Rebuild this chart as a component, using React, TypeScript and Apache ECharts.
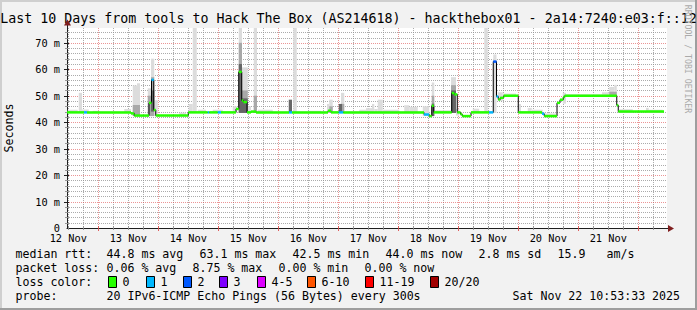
import React, { useEffect, useRef } from 'react';
import * as echarts from 'echarts';

const FONT = "'DejaVu Sans Mono', monospace";

const TITLE = 'Last 10 Days from tools to Hack The Box (AS214618) - hackthebox01 - 2a14:7240:e03:f::12';
const Y_NAME = 'Seconds';
const WATERMARK = 'RRDTOOL / TOBI OETIKER';

// x is measured in hours since 12 Nov 00:00
const X_MIN = 11.5;
const X_MAX = 251.5;
const Y_MIN = 0;
const Y_MAX = 75.6;

const dayLabels = ['12 Nov', '13 Nov', '14 Nov', '15 Nov', '16 Nov', '17 Nov', '18 Nov', '19 Nov', '20 Nov', '21 Nov'];
const dayLabelHours = [12, 36, 60, 84, 108, 132, 156, 180, 204, 228];
const midnightHours = [24, 48, 72, 96, 120, 144, 168, 192, 216, 240];
const yLabelValues = [0, 10, 20, 30, 40, 50, 60, 70];

const lossColors = ['#26ff00', '#00b8ff', '#0059ff', '#7e00ff', '#dd00ff', '#ff5500', '#ff0000', '#a10000'];
const lossLabels = ['0', '1', '2', '3', '4-5', '6-10', '11-19', '20/20'];

// median rtt segments: [startHour, endHour, ms, lossIndex]
const medianSegments: [number, number, number, number][] = [
  [11.5, 18.3, 43.7, 0], [18.3, 19.5, 43.7, 1], [19.5, 37.1, 43.7, 0], [37.1, 38.4, 43.3, 0],
  [38.4, 44.3, 42.5, 0], [44.3, 45.3, 47.3, 0], [45.3, 46.2, 56.0, 1], [46.2, 47.0, 44.6, 0],
  [47.0, 60.0, 42.5, 0], [60.0, 67.8, 43.7, 0], [67.8, 68.4, 43.7, 1], [68.4, 71.8, 43.7, 0],
  [71.8, 73.1, 43.7, 1], [73.1, 79.1, 43.7, 0], [79.1, 80.2, 45.0, 0], [80.2, 81.4, 59.0, 0],
  [81.4, 82.0, 48.2, 0], [82.0, 83.5, 47.6, 0], [83.5, 85.1, 43.7, 0], [85.1, 87.1, 44.0, 0],
  [87.1, 100.3, 43.7, 0], [100.3, 101.5, 43.7, 1], [101.5, 115.9, 43.7, 0], [115.9, 117.1, 44.3, 0],
  [117.1, 120.2, 43.7, 0], [120.2, 122.0, 43.7, 1], [122.0, 154.3, 43.7, 0], [154.3, 156.4, 42.9, 1],
  [156.4, 157.4, 42.3, 0], [157.4, 158.2, 46.2, 0], [158.2, 165.4, 43.7, 0], [165.4, 166.4, 51.0, 0],
  [166.4, 167.6, 50.5, 0], [167.6, 168.9, 43.7, 0], [168.9, 169.6, 43.0, 0], [169.6, 173.1, 42.3, 0],
  [173.1, 180.3, 43.7, 0], [180.3, 182.0, 43.7, 1], [182.0, 183.3, 62.9, 2], [183.3, 184.0, 49.7, 1],
  [184.0, 184.8, 48.6, 0], [184.8, 186.2, 49.2, 0], [186.2, 192.0, 50.0, 0], [192.0, 201.5, 43.7, 0],
  [201.5, 202.4, 43.2, 1], [202.4, 207.5, 42.3, 0], [207.5, 208.7, 47.3, 0], [208.7, 210.0, 48.5, 0],
  [210.0, 210.6, 49.5, 0], [210.6, 231.4, 50.0, 0], [231.4, 232.0, 46.4, 0], [232.0, 250.3, 44.0, 0],
];

// smoke bands: [startHour, endHour, lowMs, highMs]
const smokeLight: [number, number, number, number][] = [
  [11.8, 15.8, 43.5, 44.7], [16.2, 17.5, 43.5, 51.1], [17.5, 20.2, 43.5, 44.8], [21.8, 24.4, 43.5, 44.3],
  [34.4, 37.1, 43.5, 45.0], [37.8, 39.5, 42.3, 53.9], [39.5, 40.7, 42.3, 54.7], [43.8, 45.1, 42.3, 52.8],
  [45.1, 46.4, 42.3, 64.0], [46.4, 47.8, 42.3, 48.3], [56.4, 59.1, 42.3, 43.6], [60.2, 61.8, 43.5, 46.9],
  [61.8, 63.4, 43.5, 75.6], [63.8, 67.1, 43.5, 44.7], [69.8, 73.8, 43.5, 44.7], [77.8, 79.4, 43.5, 46.0],
  [80.2, 81.5, 43.5, 75.6], [81.5, 83.8, 43.5, 60.7], [83.8, 85.1, 43.5, 46.0], [86.2, 87.5, 43.5, 75.6],
  [87.8, 93.8, 43.5, 44.7], [102.0, 103.4, 43.5, 75.6], [108.4, 113.1, 43.5, 44.3], [115.5, 116.4, 43.5, 46.9],
  [116.4, 117.8, 43.5, 48.5], [121.1, 122.4, 43.5, 51.1], [128.4, 131.1, 43.5, 44.7], [131.1, 133.5, 43.5, 45.3],
  [133.5, 134.4, 43.5, 46.9], [134.4, 135.8, 43.5, 45.0], [135.8, 137.8, 43.5, 48.5], [137.8, 144.4, 43.5, 44.7],
  [146.4, 148.4, 43.5, 46.4], [148.4, 151.8, 43.5, 45.8], [153.8, 156.4, 42.3, 46.0], [157.4, 158.4, 42.3, 55.0],
  [158.4, 165.1, 43.5, 44.5], [165.1, 167.1, 43.5, 57.0], [167.1, 168.4, 42.5, 45.0], [173.8, 176.4, 43.5, 45.1],
  [178.4, 179.8, 43.5, 75.6], [182.0, 183.3, 43.5, 65.6], [183.8, 185.8, 48.0, 51.3], [185.8, 191.1, 49.5, 50.8],
  [192.0, 193.1, 43.5, 46.9], [195.8, 197.4, 43.5, 45.4], [197.4, 201.8, 43.5, 44.7], [202.4, 207.1, 42.0, 43.3],
  [209.8, 211.1, 47.0, 51.1], [211.1, 225.5, 49.5, 50.6], [225.5, 228.4, 49.5, 51.3], [228.4, 230.4, 49.5, 53.3],
  [230.4, 231.4, 49.5, 54.1], [232.4, 237.8, 43.5, 44.9], [243.1, 244.2, 43.5, 45.4], [244.2, 249.8, 43.5, 44.7],
];
const smokeMid: [number, number, number, number][] = [
  [37.8, 40.7, 42.3, 46.5], [43.8, 45.1, 42.3, 50.0], [45.1, 46.4, 42.3, 57.0], [80.2, 81.5, 43.5, 70.0],
  [81.5, 83.8, 43.5, 52.0], [86.2, 87.5, 43.5, 50.0], [116.4, 117.8, 43.5, 46.0], [121.1, 122.4, 43.5, 46.9],
  [157.4, 158.4, 42.3, 50.0], [165.1, 167.1, 43.5, 54.0], [228.4, 231.4, 49.5, 51.5],
];
const smokeDark: [number, number, number, number][] = [
  [45.1, 46.4, 44.0, 52.0], [80.2, 81.5, 43.5, 62.0], [81.5, 83.8, 43.5, 49.0], [100.2, 101.5, 43.5, 48.5],
  [120.2, 121.5, 43.5, 46.9], [157.4, 158.4, 42.3, 47.0], [165.1, 167.1, 43.5, 52.0],
];

const statLabels = ['median rtt:', 'packet loss:', 'loss color:', 'probe:'];
const rttStats = ['44.8 ms avg', '63.1 ms max', '42.5 ms min', '44.0 ms now', '2.8 ms sd', '15.9', 'am/s'];
const lossStats = ['0.06 % avg', '8.75 % max', '0.00 % min', '0.00 % now'];
const probeText = '20 IPv6-ICMP Echo Pings (56 Bytes) every 300s';
const stampText = 'Sat Nov 22 10:53:33 2025';

// layout (pixels)
const ROW_Y = [254, 268, 282, 296];
const RTT_X = [107, 200, 293, 386, 479, 558, 607];
const LOSS_X = [107, 193, 279, 365];
const BOX_X = [108, 146, 183, 219, 257, 307, 365, 430];

function bandSeries(data: number[][], color: string, z: number) {
  return {
    type: 'custom',
    z,
    silent: true,
    clip: true,
    data,
    encode: { x: [0, 1], y: [2, 3] },
    renderItem: (_p: any, api: any) => {
      const a = api.coord([api.value(0), api.value(3)]);
      const b = api.coord([api.value(1), api.value(2)]);
      return {
        type: 'rect',
        shape: { x: a[0], y: a[1], width: b[0] - a[0], height: b[1] - a[1] },
        style: { fill: color },
      };
    },
  };
}

export default function App() {
  const ref = useRef<HTMLDivElement>(null);
  useEffect(() => {
    const chart = echarts.init(ref.current!, null, { renderer: 'svg', width: 697, height: 310 });

    // grid line definitions: [value, orientation(0 vertical, 1 horizontal), major]
    const gridLines: number[][] = [];
    for (let h = 12; h < X_MAX; h += 6) gridLines.push([h, 0, midnightHours.includes(h) ? 1 : 0]);
    for (let v = 2; v < Y_MAX; v += 2) gridLines.push([v, 1, v % 10 === 0 ? 1 : 0]);

    const stepPoints: number[][] = medianSegments.map((s) => [s[0], s[2]]);
    const last = medianSegments[medianSegments.length - 1];
    stepPoints.push([last[1], last[2]]);

    const graphic: any[] = [
      { type: 'rect', shape: { x: 0, y: 0, width: 697, height: 2 }, style: { fill: '#cfcfcf' } },
      { type: 'rect', shape: { x: 0, y: 0, width: 2, height: 310 }, style: { fill: '#cfcfcf' } },
      { type: 'rect', shape: { x: 0, y: 308, width: 697, height: 2 }, style: { fill: '#9e9e9e' } },
      { type: 'rect', shape: { x: 695, y: 0, width: 2, height: 310 }, style: { fill: '#9e9e9e' } },
      {
        type: 'text', x: 348.5, y: 18,
        style: { text: TITLE, fontFamily: FONT, fontSize: 13.3, fill: '#000', align: 'center', verticalAlign: 'middle', textAlign: 'center', textVerticalAlign: 'middle' },
      },
      {
        type: 'text', x: 688, y: 59, rotation: -Math.PI / 2,
        style: { text: WATERMARK, fontFamily: FONT, fontSize: 8.2, fill: '#aaaaaa', align: 'center', verticalAlign: 'middle', textAlign: 'center', textVerticalAlign: 'middle' },
      },
      { type: 'line', shape: { x1: 67.5, y1: 28, x2: 67.5, y2: 24 }, style: { stroke: '#1f1f1f', lineWidth: 1 } },
      { type: 'polygon', shape: { points: [[64, 25.5], [67.5, 19.5], [71, 25.5]] }, style: { fill: '#801f1f' } },
      { type: 'line', shape: { x1: 667, y1: 228.5, x2: 669, y2: 228.5 }, style: { stroke: '#1f1f1f', lineWidth: 1 } },
      { type: 'polygon', shape: { points: [[668, 225], [674, 228.5], [668, 232]] }, style: { fill: '#801f1f' } },
    ];

    const addText = (text: string, x: number, y: number) =>
      graphic.push({
        type: 'text', x, y,
        style: { text, fontFamily: FONT, fontSize: 11.6, fill: '#000', align: 'left', verticalAlign: 'middle', textAlign: 'left', textVerticalAlign: 'middle' },
      });

    statLabels.forEach((t, i) => addText(t, 15.5, ROW_Y[i]));
    rttStats.forEach((t, i) => addText(t, RTT_X[i] - 0.5, ROW_Y[0]));
    lossStats.forEach((t, i) => addText(t, LOSS_X[i] - 0.5, ROW_Y[1]));
    lossLabels.forEach((t, i) => {
      graphic.push({
        type: 'rect',
        shape: { x: BOX_X[i] + 0.5, y: ROW_Y[2] - 5.5, width: 8, height: 11 },
        style: { fill: lossColors[i], stroke: '#000', lineWidth: 1 },
      });
      addText(t, BOX_X[i] + 14.5, ROW_Y[2]);
    });
    addText(probeText, 106.5, ROW_Y[3]);
    addText(stampText, 512.5, ROW_Y[3]);

    const option: any = {
      animation: false,
      backgroundColor: '#f2f2f2',
      grid: {
        left: 67, top: 28, width: 600, height: 200,
        show: true, backgroundColor: '#ffffff', borderWidth: 0,
        containLabel: false, outerBoundsMode: 'none',
      },
      xAxis: {
        type: 'value', min: X_MIN, max: X_MAX,
        axisLine: { show: true, lineStyle: { color: '#1f1f1f', width: 1 } },
        axisTick: { show: false },
        splitLine: { show: false },
        axisLabel: {
          customValues: dayLabelHours,
          formatter: (v: number) => dayLabels[dayLabelHours.indexOf(Math.round(v))] ?? '',
          fontFamily: FONT, fontSize: 10.3, lineHeight: 10, color: '#000', margin: 5,
        },
      },
      yAxis: {
        type: 'value', min: Y_MIN, max: Y_MAX,
        name: Y_NAME, nameLocation: 'middle', nameGap: 52,
        nameTextStyle: { fontFamily: FONT, fontSize: 11.6, color: '#000' },
        axisLine: { show: true, lineStyle: { color: '#1f1f1f', width: 1 } },
        axisTick: { show: false },
        splitLine: { show: false },
        axisLabel: {
          customValues: yLabelValues,
          formatter: (v: number) => (v === 0 ? '0' : `${v} m`),
          fontFamily: FONT, fontSize: 10.3, lineHeight: 9, color: '#000', margin: 7,
        },
      },
      graphic,
      series: [
        {
          type: 'custom', z: 1, silent: true, clip: false,
          data: gridLines,
          renderItem: (params: any, api: any) => {
            const v = api.value(0);
            const orient = api.value(1);
            const major = api.value(2);
            const cs = params.coordSys;
            const dash = { stroke: major ? 'rgba(222,79,79,0.6)' : 'rgba(143,143,143,0.75)', lineWidth: 1, lineDash: [1, 1] };
            if (orient === 0) {
              const x = Math.round(api.coord([v, 0])[0]) + 0.5;
              const bottom = cs.y + cs.height;
              return {
                type: 'group',
                children: [
                  { type: 'line', shape: { x1: x, y1: cs.y, x2: x, y2: bottom }, style: dash },
                  { type: 'line', shape: { x1: x, y1: bottom - 2, x2: x, y2: bottom + (major ? 3 : 2) }, style: { stroke: major ? 'rgba(222,79,79,0.9)' : 'rgba(143,143,143,0.9)', lineWidth: 1 } },
                ],
              };
            }
            const y = Math.round(api.coord([X_MIN, v])[1]) + 0.5;
            return {
              type: 'group',
              children: [
                { type: 'line', shape: { x1: cs.x, y1: y, x2: cs.x + cs.width, y2: y }, style: dash },
                { type: 'line', shape: { x1: cs.x - (major ? 3 : 2), y1: y, x2: cs.x + 2, y2: y }, style: { stroke: major ? '#1f1f1f' : 'rgba(143,143,143,0.9)', lineWidth: 1 } },
              ],
            };
          },
        },
        bandSeries(smokeLight, '#dcdcdc', 2),
        bandSeries(smokeMid, '#a8a8a8', 3),
        bandSeries(smokeDark, '#666666', 4),
        {
          type: 'line', z: 5, silent: true, step: 'end', symbol: 'none',
          data: stepPoints,
          lineStyle: { color: '#000000', width: 1 },
        },
        {
          type: 'custom', z: 6, silent: true, clip: true,
          data: medianSegments,
          encode: { x: [0, 1], y: 2 },
          renderItem: (_p: any, api: any) => {
            const a = api.coord([api.value(0), api.value(2)]);
            const b = api.coord([api.value(1), api.value(2)]);
            return {
              type: 'rect',
              shape: { x: a[0], y: a[1] - 1.25, width: b[0] - a[0], height: 2.5 },
              style: { fill: lossColors[api.value(3)] },
            };
          },
        },
      ],
    };

    chart.setOption(option);
    return () => chart.dispose();
  }, []);

  return <div ref={ref} style={{ position: 'fixed', left: 0, top: 0, width: 697, height: 310 }} />;
}
